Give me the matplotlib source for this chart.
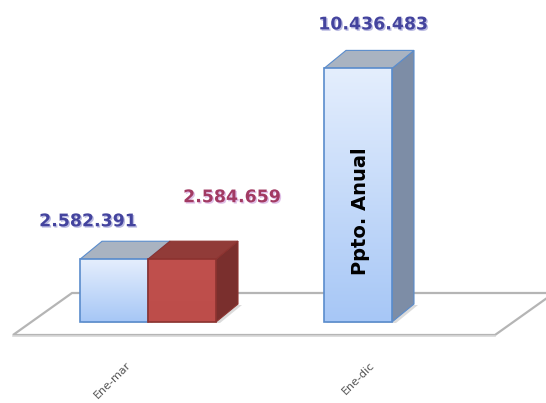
import numpy as np
import matplotlib
matplotlib.use("Agg")
import matplotlib.pyplot as plt
from matplotlib.patches import Polygon, Rectangle
import matplotlib.patheffects as pe

# ---- data ----
categories = ["Ene-mar", "Ene-dic"]
ppto = [2582391, 10436483]          # blue series
ejec = [2584659, np.nan]            # red series
ppto_labels = ["2.582.391", "10.436.483"]
ejec_labels = ["2.584.659", ""]
inner_text = ["", "Ppto. Anual"]

# ---- layout (pixels -> data helpers) ----
W, H = 546, 403
DPI = 100
PX_PER_M = 24.3          # pixels per million
BASE_PX = 322            # baseline pixel row (from top)
UNIT_PX = 244            # pixels per category
C0_PX = 148              # pixel column of first category center

fig = plt.figure(figsize=(W / DPI, H / DPI), dpi=DPI)
ax = fig.add_axes([0, 0, 1, 1])
ax.set_axis_off()
xlim = (-C0_PX / UNIT_PX, (W - C0_PX) / UNIT_PX)
ylim = ((BASE_PX - H) / PX_PER_M * 1e6, BASE_PX / PX_PER_M * 1e6)
ax.set_xlim(*xlim)
ax.set_ylim(*ylim)

def px_x(p):
    return p / UNIT_PX
def px_y(p):
    return p / PX_PER_M * 1e6

bw = px_x(68)
ddx, ddy = px_x(22), px_y(18)

# ---- floor ----
fl_front = px_y(-13)
fl_x0, fl_x1 = px_x(13 - C0_PX), px_x(495 - C0_PX)
fdx, fdy = px_x(59), px_y(42)
floor = Polygon([(fl_x0, fl_front), (fl_x1, fl_front), (fl_x1 + fdx, fl_front + fdy),
                 (fl_x0 + fdx, fl_front + fdy)], closed=True, facecolor="white",
                edgecolor="#b5b5b5", lw=1.6, zorder=1)
ax.add_patch(floor)
ax.plot([fl_x0, fl_x1], [fl_front - px_y(1.2)] * 2, color="#d8d8d8", lw=1.2, zorder=1)

def gradient_face(x0, x1, y0, y1, ctop, cbot, z):
    ctop = np.array(matplotlib.colors.to_rgb(ctop))
    cbot = np.array(matplotlib.colors.to_rgb(cbot))
    t = np.linspace(0, 1, 64)[:, None]
    img = (ctop * (1 - t) + cbot * t)[:, None, :]
    im = ax.imshow(img, extent=[x0, x1, y0, y1], origin="upper", aspect="auto",
                   zorder=z, interpolation="bilinear")
    rect = Rectangle((x0, y0), x1 - x0, y1 - y0, transform=ax.transData)
    im.set_clip_path(rect)

def bar3d(xl, val, style, z):
    xr = xl + bw
    # shadow on floor
    sh = Polygon([(xl + px_x(2), -px_y(1)), (xr + px_x(4), -px_y(1)),
                  (xr + ddx + px_x(4), ddy - px_y(1)), (xl + ddx, ddy - px_y(1))],
                 closed=True, facecolor="#9a9a9a", alpha=0.35, lw=0, zorder=z - 0.5)
    ax.add_patch(sh)
    side = Polygon([(xr, 0), (xr + ddx, ddy), (xr + ddx, val + ddy), (xr, val)],
                   closed=True, facecolor=style["side"], edgecolor=style["edge"],
                   lw=0.8, zorder=z)
    top = Polygon([(xl, val), (xr, val), (xr + ddx, val + ddy), (xl + ddx, val + ddy)],
                  closed=True, facecolor=style["top"], edgecolor=style["edge"],
                  lw=0.8, zorder=z + 0.1)
    ax.add_patch(side)
    ax.add_patch(top)
    gradient_face(xl, xr, 0, val, style["ftop"], style["fbot"], z + 0.2)
    ax.add_patch(Rectangle((xl, 0), bw, val, facecolor="none",
                           edgecolor=style["edge"], lw=1.2, zorder=z + 0.3))

blue = dict(ftop="#e4eefd", fbot="#a7c7f6", top="#a9b3c1", side="#7d8da6", edge="#5a8ccc")
red = dict(ftop="#c0504d", fbot="#bd4d4a", top="#913b38", side="#7a2f2d", edge="#8c3330")

label_kw = dict(fontsize=12.5, fontweight="bold", ha="center", va="center",
                family="DejaVu Sans")
blue_off = [(-26, 38), (15, 44)]
red_off = [(50, 62), (0, 0)]

z = 3
for i, cat in enumerate(categories):
    xb = i - bw
    bar3d(xb, ppto[i], blue, z); z += 1
    if not np.isnan(ejec[i]):
        bar3d(i, ejec[i], red, z); z += 1
    # value labels
    ox, oy = blue_off[i]
    ax.text(xb + bw / 2 + px_x(ox), ppto[i] + px_y(oy), ppto_labels[i], color="#44449e",
            zorder=20, path_effects=[pe.withSimplePatchShadow(offset=(1, -1),
                                     shadow_rgbFace="#9090d0", alpha=0.6)], **label_kw)
    if ejec_labels[i]:
        ox, oy = red_off[i]
        ax.text(i + bw / 2 + px_x(ox), ejec[i] + px_y(oy), ejec_labels[i], color="#a23a63",
                zorder=20, path_effects=[pe.withSimplePatchShadow(offset=(1, -1),
                                         shadow_rgbFace="#c080d0", alpha=0.5)], **label_kw)
    if inner_text[i]:
        ax.text(xb + bw / 2 + px_x(3), ppto[i] * 0.435, inner_text[i], rotation=90,
                fontsize=14, fontweight="bold", color="black", ha="center", va="center",
                zorder=20)
    # category tick label
    ax.text(i - px_x(15), px_y(-38), cat, rotation=45, ha="right", va="top",
            fontsize=8, color="#555555", zorder=20)

ax.set_xlim(*xlim)
ax.set_ylim(*ylim)
fig.savefig("out.png", dpi=DPI)
